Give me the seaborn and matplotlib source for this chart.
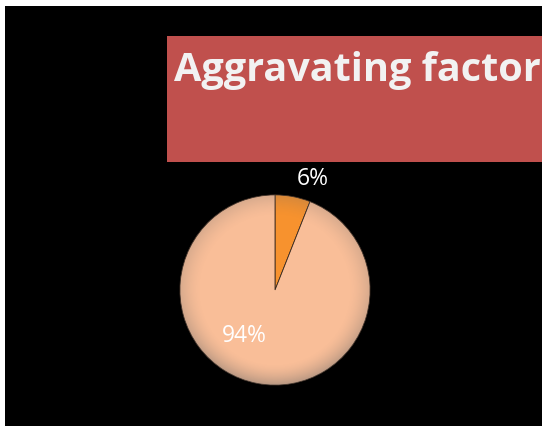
import numpy as np
import matplotlib
matplotlib.use("Agg")
import matplotlib.pyplot as plt
from matplotlib.patches import Rectangle
import seaborn as sns

sns.set_style("white")
plt.rcParams["font.family"] = ["Open Sans", "DejaVu Sans"]

title = "Aggravating factor"
categories = ["Aggravating factor present", "Absent"]
shares = [6, 94]
slice_colors = ["#F7922E", "#F9BE98"]
label_pos = [(0.40, 1.17), (-0.32, -0.48)]

W, H = 542, 430
fig = plt.figure(figsize=(W / 100, H / 100), dpi=100, facecolor="white")

# slide background and title banner
fig.patches.append(Rectangle((5 / W, 4 / H), (W - 5) / W, (H - 10) / H,
                             transform=fig.transFigure, facecolor="black",
                             edgecolor="none", zorder=0))
fig.patches.append(Rectangle((167 / W, (H - 162) / H), (W - 167) / W, 126 / H,
                             transform=fig.transFigure, facecolor="#C0504D",
                             edgecolor="none", zorder=1))
fig.text(357 / W, (H - 71) / H, title, color="#F2F2F2", fontsize=28.5,
         fontweight="bold", ha="center", va="center", zorder=2)

# pie
cx, cy, r = 275, 290, 95
ax = fig.add_axes([(cx - r - 2) / W, (H - cy - r - 2) / H,
                   (2 * r + 4) / W, (2 * r + 4) / H])
ax.set_zorder(5)
ax.set_facecolor("none")
wedges, _ = ax.pie(shares, colors=slice_colors, startangle=90,
                   counterclock=False, radius=1,
                   wedgeprops=dict(edgecolor="#3a2a20", linewidth=0.6))
ax.set_xlim(-1.02, 1.02)
ax.set_ylim(-1.02, 1.02)
ax.set_aspect("equal")
ax.axis("off")

# soft bevel shading over each slice: darker rim, strongest at the bottom
n = 400
xs = np.linspace(-1.02, 1.02, n)
X, Y = np.meshgrid(xs, xs)
R = np.sqrt(X ** 2 + Y ** 2)
rim = np.clip((R - 0.78) / 0.22, 0, 1) ** 1.5
weight = 0.22 + 0.22 * np.clip(-Y, 0, 1)
rgba = np.zeros((n, n, 4))
rgba[..., :3] = 0.40
rgba[..., 3] = rim * weight
for w in wedges:
    im = ax.imshow(rgba, extent=(-1.02, 1.02, -1.02, 1.02), origin="lower",
                   zorder=3, interpolation="bilinear")
    im.set_clip_path(w)

for (lx, ly), v in zip(label_pos, shares):
    ax.text(lx, ly, f"{v}%", color="white", fontsize=16.5, ha="center",
            va="center", zorder=5, clip_on=False)

fig.savefig("out.png", dpi=100, facecolor="white")
